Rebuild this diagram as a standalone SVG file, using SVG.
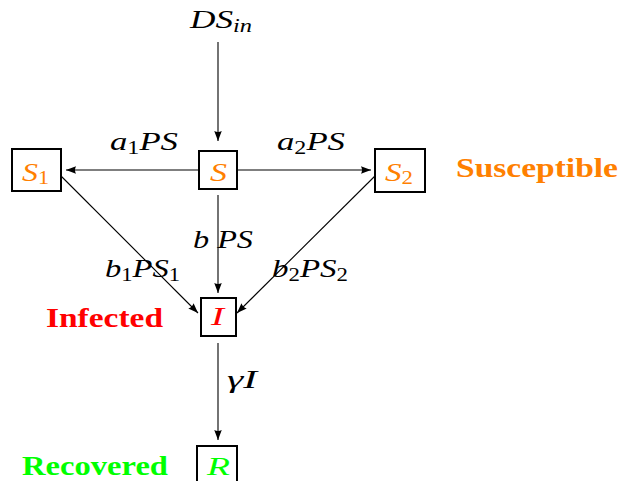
<svg xmlns="http://www.w3.org/2000/svg" width="622" height="481" viewBox="0 0 622 481">
<style>
.box{fill:#fff;stroke:#000;stroke-width:2}
.ln{stroke:#000;stroke-width:1.1;fill:none;marker-end:url(#arr)}
text{font-family:'Liberation Serif','DejaVu Serif',serif}
.m{font-style:italic;font-size:26px;fill:#000}
.sub{font-size:18px;font-style:normal}
.subi{font-size:18px}
.lab{font-weight:bold;font-size:28px}
.or{fill:#FF8000}.rd{fill:#FF0000}.gr{fill:#00FF00}
</style>
<defs>
<marker id="arr" markerUnits="userSpaceOnUse" markerWidth="10" markerHeight="8" refX="10" refY="3.75" orient="auto">
<path d="M0,0 L10,3.75 L0,7.5 Q2,3.75 0,0 z" fill="#000"/>
</marker>
</defs>
<g id="connectors">
<line class="ln" x1="218" y1="42" x2="218" y2="141"/>
<line class="ln" x1="205" y1="170" x2="66" y2="170"/>
<line class="ln" x1="233" y1="170" x2="371" y2="170"/>
<line class="ln" x1="218" y1="195" x2="218" y2="293"/>
<line class="ln" x1="55" y1="170" x2="198" y2="313"/>
<line class="ln" x1="380" y1="171" x2="237" y2="313"/>
<line class="ln" x1="218" y1="343" x2="218" y2="440"/>
<text class="m" x="110" y="150" textLength="68" lengthAdjust="spacingAndGlyphs">a<tspan class="sub" dy="4">1</tspan><tspan dy="-4">PS</tspan></text>
<text class="m" x="277" y="150" textLength="68" lengthAdjust="spacingAndGlyphs">a<tspan class="sub" dy="4">2</tspan><tspan dy="-4">PS</tspan></text>
<text class="m" x="193" y="248" textLength="60" lengthAdjust="spacingAndGlyphs">b PS</text>
<text class="m" x="105" y="277" textLength="75" lengthAdjust="spacingAndGlyphs">b<tspan class="sub" dy="4">1</tspan><tspan dy="-4">PS</tspan><tspan class="sub" dy="4">1</tspan></text>
<text class="m" x="272" y="277" textLength="76" lengthAdjust="spacingAndGlyphs">b<tspan class="sub" dy="4">2</tspan><tspan dy="-4">PS</tspan><tspan class="sub" dy="4">2</tspan></text>
<text class="m" x="227" y="388" textLength="30" lengthAdjust="spacingAndGlyphs">γI</text>
</g>
<g id="DSin">
<text class="m" x="190" y="28" textLength="62" lengthAdjust="spacingAndGlyphs">DS<tspan class="subi" dy="4">in</tspan></text>
</g>
<g id="S1">
<rect class="box" x="12" y="149" width="49" height="42"/>
<text class="m or" x="22" y="181" textLength="27" lengthAdjust="spacingAndGlyphs">S<tspan class="sub" dy="3">1</tspan></text>
</g>
<g id="S">
<rect class="box" x="199" y="151" width="38" height="38"/>
<text class="m or" x="210" y="181" textLength="17" lengthAdjust="spacingAndGlyphs">S</text>
</g>
<g id="S2">
<rect class="box" x="375" y="149" width="50" height="43"/>
<text class="m or" x="385" y="181" textLength="28" lengthAdjust="spacingAndGlyphs">S<tspan class="sub" dy="3">2</tspan></text>
</g>
<g id="I">
<rect class="box" x="201" y="298" width="35" height="38"/>
<text class="m rd" x="211" y="325" textLength="13" lengthAdjust="spacingAndGlyphs">I</text>
</g>
<g id="R">
<rect class="box" x="197" y="446" width="40" height="40"/>
<text class="m gr" x="207" y="475" textLength="23" lengthAdjust="spacingAndGlyphs">R</text>
</g>
<g id="labels">
<text class="lab or" x="456" y="177" textLength="162" lengthAdjust="spacingAndGlyphs">Susceptible</text>
<text class="lab rd" x="46" y="327" textLength="117" lengthAdjust="spacingAndGlyphs">Infected</text>
<text class="lab gr" x="22" y="475" textLength="146" lengthAdjust="spacingAndGlyphs">Recovered</text>
</g>
</svg>
